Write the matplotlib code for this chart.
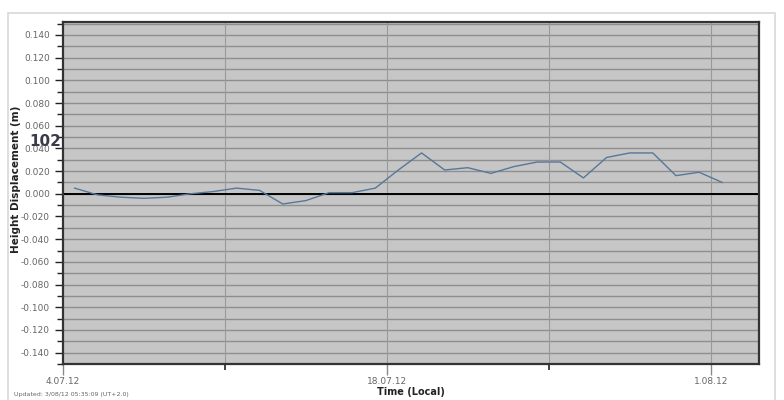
import matplotlib
matplotlib.use('Agg')
import matplotlib.pyplot as plt
from matplotlib.patches import Rectangle
import numpy as np
import datetime as dt

# Daily readings (taken around midday), height displacement in metres
start = dt.datetime(2012, 7, 4, 12, 0)
days = list(range(29))
height = [0.005, -0.001, -0.003, -0.004, -0.003, 0.000, 0.002, 0.005, 0.003,
          -0.009, -0.006, 0.001, 0.001, 0.005, 0.021, 0.036, 0.021, 0.023,
          0.018, 0.024, 0.028, 0.028, 0.014, 0.032, 0.036, 0.036, 0.016,
          0.019, 0.010]
times = [start + dt.timedelta(days=d) for d in days]

tick_dates = [dt.datetime(2012, 7, 4), dt.datetime(2012, 7, 18), dt.datetime(2012, 8, 1)]
tick_labels = ['4.07.12', '18.07.12', '1.08.12']
minor_dates = [dt.datetime(2012, 7, 11), dt.datetime(2012, 7, 25)]
y_major = np.arange(-0.14, 0.141, 0.02)
y_minor = np.arange(-0.15, 0.151, 0.01)

fig = plt.figure(figsize=(7.84, 4.0), dpi=100)
ax = fig.add_axes([0.0804, 0.09, 0.8874, 0.855])
ax.set_facecolor('#c6c6c6')

# outer light frame
fig.patches.append(Rectangle((0.010, -0.01), 0.978, 0.978, transform=fig.transFigure,
                             fill=False, edgecolor='#d8d8d8', linewidth=1.2))

# grid
for y in y_minor:
    ax.axhline(y, color='#8e8e8e', linewidth=1.0, zorder=1)
for d in minor_dates + tick_dates[1:]:
    ax.axvline(d, color='#9a9a9a', linewidth=0.8, zorder=1)
ax.axhline(0, color='black', linewidth=1.4, zorder=2)

ax.plot(times, height, color='#56789a', linewidth=1.0, zorder=3)

ax.set_xlim(dt.datetime(2012, 7, 4), dt.datetime(2012, 7, 4) + dt.timedelta(days=30.08))
ax.set_ylim(-0.1497, 0.1514)

ax.set_xticks(tick_dates)
ax.set_xticklabels(tick_labels)
ax.set_xticks(minor_dates, minor=True)
ax.set_yticks(y_major)
ax.set_yticklabels(['%.3f' % v if abs(v) > 1e-9 else '0.000' for v in y_major])
ax.set_yticks(y_minor, minor=True)

ax.tick_params(axis='both', which='both', direction='out', colors='#222222',
               labelcolor='#666666', labelsize=6.5)
ax.tick_params(axis='y', which='major', length=6, width=1)
ax.tick_params(axis='y', which='minor', length=4, width=1)
ax.tick_params(axis='x', which='major', length=8, width=1, pad=1, colors='#8a8a8a',
               labelcolor='#666666')
ax.tick_params(axis='x', which='minor', length=4, width=1.2)

for s in ax.spines.values():
    s.set_color('#333333')
    s.set_linewidth(1.6)

ax.set_xlabel('Time (Local)', fontsize=7, fontweight='bold', color='#222222', labelpad=1)
fig.text(0.021, 1 - 179 / 400, 'Height Displacement (m)', rotation=90, ha='center',
         va='center', fontsize=7.5, fontweight='bold', color='#222222')
fig.text(45 / 784, 1 - 141 / 400, '102', ha='center', va='center', fontsize=11,
         fontweight='bold', color='#3a3a4a', zorder=5)
fig.text(0.018, 0.008, 'Updated: 3/08/12 05:35:09 (UT+2.0)', fontsize=4.5,
         color='#666666', ha='left', va='bottom')

fig.savefig('out.png', dpi=100)
